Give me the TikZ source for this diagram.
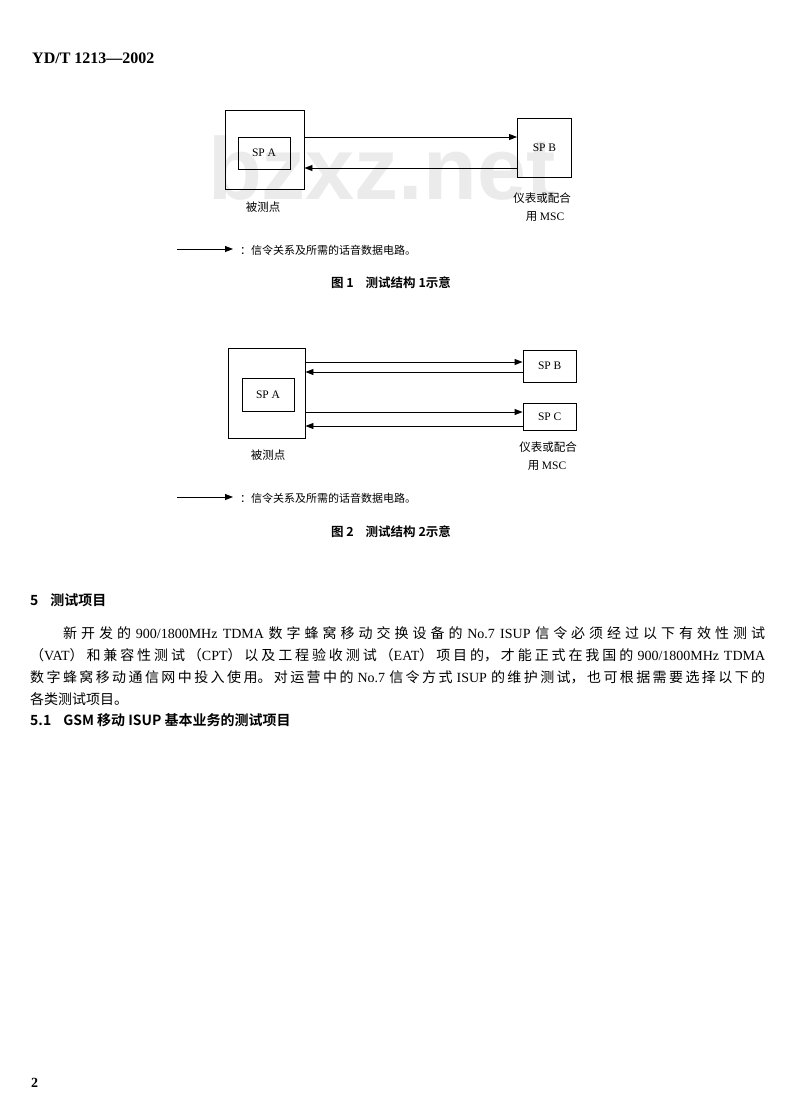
\documentclass[tikz,border=0pt]{standalone}
\usepackage{fontspec}
\setmainfont{Noto Sans CJK SC}[BoldFont={Noto Sans CJK SC Bold}]
\newfontfamily\lat{Liberation Serif}
\newfontfamily\wmfont{Liberation Sans}
\usetikzlibrary{arrows.meta}
\XeTeXlinebreaklocale "zh"
\XeTeXlinebreakskip=0pt plus 4pt
\definecolor{wm}{gray}{0.92}
\begin{document}
\begin{tikzpicture}[x=1pt,y=-1pt,
  box/.style={draw, line width=0.9pt, inner sep=0pt},
  spbox/.style={box, font=\lat\fontsize{11.5}{13}\selectfont},
  arr/.style={-{Triangle[length=8pt,width=6pt]}, line width=0.9pt},
  lbl/.style={inner sep=0pt, font=\fontsize{11.5}{13}\selectfont},
  captext/.style={inner sep=0pt, font=\bfseries\fontsize{12.5}{14}\selectfont},
  legend/.style={inner sep=0pt, anchor=west, font=\fontsize{11}{13}\selectfont},
  head/.style={inner sep=0pt, anchor=west, font=\bfseries\fontsize{14}{16}\selectfont}]
\useasboundingbox (0,0) rectangle (800,1120);
\fill[white] (0,0) rectangle (800,1120);

% watermark
\node[inner sep=0pt, anchor=base west, text=wm, font=\wmfont\bfseries\fontsize{88}{90}\selectfont] (wmark) at (208,199) {bzxz.net};

% header
\node[inner sep=0pt, anchor=west, font=\lat\bfseries\fontsize{16}{18}\selectfont] (hdr) at (32,58) {YD/T 1213—2002};

% ---------- Figure 1 ----------
\node[box, minimum width=78.5pt, minimum height=79pt] (outer1) at (264.75,149.5) {};
\node[spbox, minimum width=52pt, minimum height=32pt] (spa1) at (264,153) {SP A};
\node[spbox, minimum width=54pt, minimum height=59pt] (spb1) at (544.5,147.5) {SP B};
\coordinate (r1) at (0,137);
\coordinate (r2) at (0,168);
\draw[arr] (outer1.east |- r1) -- (spb1.west |- r1);
\draw[arr] (spb1.west |- r2) -- (outer1.east |- r2);
\node[lbl] (dut1) at (263,207) {被测点};
\node[lbl] (ins1a) at (542,198) {仪表或配合};
\node[lbl] (ins1b) at (545,217) {用 {\lat MSC}};
\coordinate (la1) at (177,249);
\coordinate (lb1) at (233,249);
\draw[arr] (la1) -- (lb1);
\node[legend] (leg1) at (240,250) {：信令关系及所需的话音数据电路。};
\node[captext] (cap1) at (391,283) {图 1\hspace{12pt}测试结构 1示意};

% ---------- Figure 2 ----------
\node[box, minimum width=77pt, minimum height=90pt] (outer2) at (266.5,393) {};
\node[spbox, minimum width=52pt, minimum height=33pt] (spa2) at (268,394.5) {SP A};
\node[spbox, minimum width=53.5pt, minimum height=32pt] (spb2) at (549.75,366) {SP B};
\node[spbox, minimum width=53.5pt, minimum height=27pt] (spc2) at (549.75,416.5) {SP C};
\coordinate (s1) at (0,362);
\coordinate (s2) at (0,372);
\coordinate (s3) at (0,412);
\coordinate (s4) at (0,426);
\draw[arr] (outer2.east |- s1) -- (spb2.west |- s1);
\draw[arr] (spb2.west |- s2) -- (outer2.east |- s2);
\draw[arr] (outer2.east |- s3) -- (spc2.west |- s3);
\draw[arr] (spc2.west |- s4) -- (outer2.east |- s4);
\node[lbl] (dut2) at (268,455) {被测点};
\node[lbl] (ins2a) at (548,447) {仪表或配合};
\node[lbl] (ins2b) at (547,466) {用 {\lat MSC}};
\coordinate (la2) at (177,497);
\coordinate (lb2) at (233,497);
\draw[arr] (la2) -- (lb2);
\node[legend] (leg2) at (240,498) {：信令关系及所需的话音数据电路。};
\node[captext] (cap2) at (391,532) {图 2\hspace{12pt}测试结构 2示意};

% ---------- Section text ----------
\node[head] (sec5) at (30,600) {5\hspace{12pt}测试项目};
\node[inner sep=0pt, anchor=north west, text width=735pt, align=justify,
      font=\fontsize{14}{22}\selectfont] (body) at (30,626) {%
\tolerance=10000\parindent=0pt
\hspace*{33pt}新开发的 {\lat 900/1800MHz TDMA} 数字蜂窝移动交换设备的 {\lat No.7 ISUP} 信令必须经过以下有效性测试\linebreak
（{\lat VAT}）和兼容性测试（{\lat CPT}）以及工程验收测试（{\lat EAT}）项目的，才能正式在我国的 {\lat 900/1800MHz TDMA}\linebreak
数字蜂窝移动通信网中投入使用。对运营中的 {\lat No.7} 信令方式 {\lat ISUP} 的维护测试，也可根据需要选择以下的\linebreak
各类测试项目。};
\node[head] (sec51) at (30,720) {5.1\hspace{12pt}GSM 移动 ISUP 基本业务的测试项目};

% page number
\node[inner sep=0pt, anchor=west, font=\lat\bfseries\fontsize{14}{16}\selectfont] (pg) at (31,1083) {2};
\end{tikzpicture}
\end{document}
